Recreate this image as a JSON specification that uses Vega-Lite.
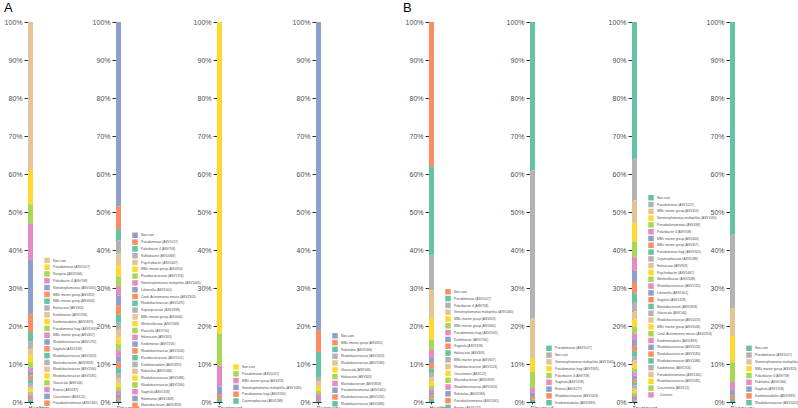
{
"$schema": "https://vega.github.io/schema/vega-lite/v6.json",
"padding": {"left": 4, "top": 2, "right": 0, "bottom": 0},
"background": "white",
"datasets": {
"aH": [
{"group":"Healthy","taxon":"Non-core","value":39,"rank":1},
{"group":"Healthy","taxon":"Pseudomonas (ASV1017)","value":9,"rank":2},
{"group":"Healthy","taxon":"Ruegeria (ASV2066)","value":5,"rank":3},
{"group":"Healthy","taxon":"Polaribacter 4 (ASV708)","value":9.5,"rank":4},
{"group":"Healthy","taxon":"Stenotrophomonas (ASV1065)","value":14.5,"rank":5},
{"group":"Healthy","taxon":"MBIc marine group (ASV453)","value":4.6,"rank":6},
{"group":"Healthy","taxon":"MBIc marine group (ASV444)","value":2.4,"rank":7},
{"group":"Healthy","taxon":"Halieaceae (ASV303)","value":2,"rank":8},
{"group":"Healthy","taxon":"Kordiimonas (ASV1706)","value":1.6,"rank":9},
{"group":"Healthy","taxon":"Kordiimonadales (ASV1839)","value":1.9,"rank":10},
{"group":"Healthy","taxon":"Pseudomonas fragi (ASV1905)","value":1.5,"rank":11},
{"group":"Healthy","taxon":"MBIc marine group (ASV457)","value":1,"rank":12},
{"group":"Healthy","taxon":"Rhodobacteraceae (ASV1232)","value":1,"rank":13},
{"group":"Healthy","taxon":"Sagittula (ASV1318)","value":1,"rank":14},
{"group":"Healthy","taxon":"Rhodobacteraceae (ASV1453)","value":1,"rank":15},
{"group":"Healthy","taxon":"Marinobacterium (ASV1858)","value":1,"rank":16},
{"group":"Healthy","taxon":"Rhodobacteraceae (ASV1580)","value":0.7,"rank":17},
{"group":"Healthy","taxon":"Rhodobacteraceae (ASV1581)","value":0.7,"rank":18},
{"group":"Healthy","taxon":"Glaciecola (ASV146)","value":0.6,"rank":19},
{"group":"Healthy","taxon":"Erwinia (ASV187)","value":0.5,"rank":20},
{"group":"Healthy","taxon":"Crocinitomix (ASV122)","value":0.5,"rank":21},
{"group":"Healthy","taxon":"Pseudoalteromonas (ASV1461)","value":0.5,"rank":22},
{"group":"Healthy","taxon":"Cryomorphaceae (ASV1588)","value":0.5,"rank":23}
],
"aD": [
{"group":"Diseased","taxon":"Non-core","value":48.5,"rank":1},
{"group":"Diseased","taxon":"Pseudomonas (ASV1017)","value":6,"rank":2},
{"group":"Diseased","taxon":"Polaribacter 4 (ASV708)","value":3,"rank":3},
{"group":"Diseased","taxon":"Sulfitobacter (ASV2068)","value":3.5,"rank":4},
{"group":"Diseased","taxon":"Psychrobacter (ASV1667)","value":3,"rank":5},
{"group":"Diseased","taxon":"MBIc marine group (ASV453)","value":3,"rank":6},
{"group":"Diseased","taxon":"Flavobacteriaceae (ASV1316)","value":2.5,"rank":7},
{"group":"Diseased","taxon":"Stenotrophomonas maltophilia (ASV1065)","value":2.5,"rank":8},
{"group":"Diseased","taxon":"Loktanella (ASV1601)","value":2.5,"rank":9},
{"group":"Diseased","taxon":"Cand. Actinomarina minuta (ASV2303)","value":2.5,"rank":10},
{"group":"Diseased","taxon":"Rhodobacteraceae (ASV1475)","value":2,"rank":11},
{"group":"Diseased","taxon":"Saprospiraceae (ASV1838)","value":2,"rank":12},
{"group":"Diseased","taxon":"MBIc marine group (ASV444)","value":2,"rank":13},
{"group":"Diseased","taxon":"Weeksellaceae (ASV2348)","value":1.8,"rank":14},
{"group":"Diseased","taxon":"Flavicella (ASV700)","value":1.7,"rank":15},
{"group":"Diseased","taxon":"Halieaceae (ASV303)","value":1.6,"rank":16},
{"group":"Diseased","taxon":"Kordiimonas (ASV1706)","value":1.5,"rank":17},
{"group":"Diseased","taxon":"Rhodobacteraceae (ASV1526)","value":1.5,"rank":18},
{"group":"Diseased","taxon":"Flavobacteriaceae (ASV1551)","value":1.4,"rank":19},
{"group":"Diseased","taxon":"Kordiimonadales (ASV1839)","value":1.3,"rank":20},
{"group":"Diseased","taxon":"Rubritalea (ASV2066)","value":1.2,"rank":21},
{"group":"Diseased","taxon":"Rhodobacteraceae (ASV1486)","value":1.1,"rank":22},
{"group":"Diseased","taxon":"Rhodobacteraceae (ASV1580)","value":1,"rank":23},
{"group":"Diseased","taxon":"Sagittula (ASV1318)","value":1,"rank":24},
{"group":"Diseased","taxon":"Halomonas (ASV2308)","value":0.9,"rank":25},
{"group":"Diseased","taxon":"Marinobacterium (ASV1858)","value":0.6,"rank":26},
{"group":"Diseased","taxon":"Pseudoalteromonas (ASV1461)","value":0.4,"rank":27}
],
"aT": [
{"group":"Treatment","taxon":"Non-core","value":82,"rank":1},
{"group":"Treatment","taxon":"Pseudomonas (ASV1017)","value":8.4,"rank":2},
{"group":"Treatment","taxon":"MBIc marine group (ASV453)","value":5.5,"rank":3},
{"group":"Treatment","taxon":"Stenotrophomonas maltophilia (ASV1065)","value":2.2,"rank":4},
{"group":"Treatment","taxon":"Pseudomonas fragi (ASV1905)","value":1.1,"rank":5},
{"group":"Treatment","taxon":"Cryomorphaceae (ASV1588)","value":0.8,"rank":6}
],
"aR": [
{"group":"Recovery","taxon":"Non-core","value":81.1,"rank":1},
{"group":"Recovery","taxon":"MBIc marine group (ASV453)","value":5.7,"rank":2},
{"group":"Recovery","taxon":"Rubritalea (ASV2066)","value":6.6,"rank":3},
{"group":"Recovery","taxon":"Rhodobacteraceae (ASV1453)","value":1.1,"rank":4},
{"group":"Recovery","taxon":"Rhodobacteraceae (ASV1580)","value":1.3,"rank":5},
{"group":"Recovery","taxon":"Glaciecola (ASV146)","value":1.3,"rank":6},
{"group":"Recovery","taxon":"Halieaceae (ASV303)","value":0.8,"rank":7},
{"group":"Recovery","taxon":"Marinobacterium (ASV1858)","value":0.8,"rank":8},
{"group":"Recovery","taxon":"Pseudoalteromonas (ASV1461)","value":0.5,"rank":9},
{"group":"Recovery","taxon":"Rhodobacteraceae (ASV1232)","value":0.5,"rank":10},
{"group":"Recovery","taxon":"Rhodobacteraceae (ASV1486)","value":0.3,"rank":11}
],
"bH": [
{"group":"Healthy","taxon":"Non-core","value":38,"rank":1},
{"group":"Healthy","taxon":"Pseudomonas (ASV1017)","value":23.3,"rank":2},
{"group":"Healthy","taxon":"Polaribacter 4 (ASV708)","value":9.2,"rank":3},
{"group":"Healthy","taxon":"Stenotrophomonas maltophilia (ASV1065)","value":7.4,"rank":4},
{"group":"Healthy","taxon":"MBIc marine group (ASV453)","value":5.8,"rank":5},
{"group":"Healthy","taxon":"MBIc marine group (ASV444)","value":2.6,"rank":6},
{"group":"Healthy","taxon":"Pseudomonas fragi (ASV1905)","value":2.1,"rank":7},
{"group":"Healthy","taxon":"Kordiimonas (ASV1706)","value":1.3,"rank":8},
{"group":"Healthy","taxon":"Sagittula (ASV1318)","value":1.6,"rank":9},
{"group":"Healthy","taxon":"Halieaceae (ASV303)","value":1.1,"rank":10},
{"group":"Healthy","taxon":"MBIc marine group (ASV457)","value":1,"rank":11},
{"group":"Healthy","taxon":"Rhodobacteraceae (ASV1526)","value":1.1,"rank":12},
{"group":"Healthy","taxon":"Crocinitomix (ASV122)","value":1.3,"rank":13},
{"group":"Healthy","taxon":"Marinobacterium (ASV1858)","value":0.8,"rank":14},
{"group":"Healthy","taxon":"Rhodobacteraceae (ASV1453)","value":0.8,"rank":15},
{"group":"Healthy","taxon":"Rubritalea (ASV2066)","value":0.8,"rank":16},
{"group":"Healthy","taxon":"Pseudoalteromonas (ASV1461)","value":0.9,"rank":17},
{"group":"Healthy","taxon":"Erwinia (ASV1077)","value":0.9,"rank":18}
],
"bD": [
{"group":"Diseased","taxon":"Pseudomonas (ASV1017)","value":39,"rank":1},
{"group":"Diseased","taxon":"Non-core","value":39,"rank":2},
{"group":"Diseased","taxon":"Stenotrophomonas maltophilia (ASV1065)","value":10.4,"rank":3},
{"group":"Diseased","taxon":"Pseudomonas fragi (ASV1905)","value":3.7,"rank":4},
{"group":"Diseased","taxon":"Polaribacter 4 (ASV708)","value":4.2,"rank":5},
{"group":"Diseased","taxon":"Sagittula (ASV1318)","value":1.3,"rank":6},
{"group":"Diseased","taxon":"Erwinia (ASV1077)","value":1.1,"rank":7},
{"group":"Diseased","taxon":"Rhodobacteraceae (ASV1453)","value":0.7,"rank":8},
{"group":"Diseased","taxon":"Kordiimonadales (ASV1839)","value":0.6,"rank":9}
],
"bT": [
{"group":"Treatment","taxon":"Non-core","value":36,"rank":1},
{"group":"Treatment","taxon":"Pseudomonas (ASV1017)","value":10.9,"rank":2},
{"group":"Treatment","taxon":"MBIc marine group (ASV453)","value":6,"rank":3},
{"group":"Treatment","taxon":"Stenotrophomonas maltophilia (ASV1065)","value":5,"rank":4},
{"group":"Treatment","taxon":"Pseudoalteromonas (ASV438)","value":4,"rank":5},
{"group":"Treatment","taxon":"Polaribacter 4 (ASV708)","value":3.5,"rank":6},
{"group":"Treatment","taxon":"MBIc marine group (ASV444)","value":3,"rank":7},
{"group":"Treatment","taxon":"MBIc marine group (ASV457)","value":3,"rank":8},
{"group":"Treatment","taxon":"Pseudomonas fragi (ASV1905)","value":2.5,"rank":9},
{"group":"Treatment","taxon":"Cryomorphaceae (ASV1588)","value":2.3,"rank":10},
{"group":"Treatment","taxon":"Halieaceae (ASV303)","value":2,"rank":11},
{"group":"Treatment","taxon":"Psychrobacter (ASV1667)","value":2,"rank":12},
{"group":"Treatment","taxon":"Weeksellaceae (ASV2348)","value":1.8,"rank":13},
{"group":"Treatment","taxon":"Rhodobacteraceae (ASV1232)","value":1.7,"rank":14},
{"group":"Treatment","taxon":"Loktanella (ASV1601)","value":1.5,"rank":15},
{"group":"Treatment","taxon":"Sagittula (ASV1318)","value":1.4,"rank":16},
{"group":"Treatment","taxon":"Marinobacterium (ASV1858)","value":1.3,"rank":17},
{"group":"Treatment","taxon":"Glaciecola (ASV146)","value":1.2,"rank":18},
{"group":"Treatment","taxon":"Rhodobacteraceae (ASV1453)","value":1.1,"rank":19},
{"group":"Treatment","taxon":"MBIc marine group (ASV1046)","value":1,"rank":20},
{"group":"Treatment","taxon":"Cand. Actinomarina minuta (ASV2303)","value":1,"rank":21},
{"group":"Treatment","taxon":"Kordiimonadales (ASV1839)","value":0.9,"rank":22},
{"group":"Treatment","taxon":"Rhodobacteraceae (ASV1526)","value":0.9,"rank":23},
{"group":"Treatment","taxon":"Rhodobacteraceae (ASV1580)","value":0.8,"rank":24},
{"group":"Treatment","taxon":"Rhodobacteraceae (ASV1486)","value":0.8,"rank":25},
{"group":"Treatment","taxon":"Kordiimonas (ASV1706)","value":0.7,"rank":26},
{"group":"Treatment","taxon":"Pseudoalteromonas (ASV1461)","value":0.7,"rank":27},
{"group":"Treatment","taxon":"Rhodobacteraceae (ASV1581)","value":0.6,"rank":28},
{"group":"Treatment","taxon":"Crocinitomix (ASV122)","value":0.6,"rank":29},
{"group":"Treatment","taxon":"Ruegeria (ASV1425)","value":0.5,"rank":30},
{"group":"Treatment","taxon":"Roseobacter (ASV2068)","value":0.5,"rank":31},
{"group":"Treatment","taxon":"Erwinia (ASV1077)","value":0.4,"rank":32},
{"group":"Treatment","taxon":"Cand. Actinomarina (ASV2058)","value":0.4,"rank":33}
],
"bR": [
{"group":"Recovery","taxon":"Non-core","value":56,"rank":1},
{"group":"Recovery","taxon":"Pseudomonas (ASV1017)","value":19.3,"rank":2},
{"group":"Recovery","taxon":"Stenotrophomonas maltophilia (ASV1065)","value":7.3,"rank":3},
{"group":"Recovery","taxon":"MBIc marine group (ASV453)","value":6.9,"rank":4},
{"group":"Recovery","taxon":"Polaribacter 4 (ASV708)","value":5.2,"rank":5},
{"group":"Recovery","taxon":"Rubritalea (ASV2066)","value":2.1,"rank":6},
{"group":"Recovery","taxon":"Sagittula (ASV1318)","value":1.4,"rank":7},
{"group":"Recovery","taxon":"Kordiimonadales (ASV1839)","value":1,"rank":8},
{"group":"Recovery","taxon":"Rhodobacteraceae (ASV1453)","value":0.8,"rank":9}
]
},
"hconcat": [
{"width": 88, "height": 380, "data": {"name": "aH"},
 "title": {"text": "A", "anchor": "start", "frame": "group", "dx": -24, "fontSize": 13, "fontWeight": "normal", "offset": 3, "color": "#000"},
 "mark": {"type": "bar"},
 "encoding": {
  "x": {"field": "group", "type": "nominal", "scale": {"range": [0, 5], "paddingInner": 0, "paddingOuter": 0}, "axis": {"title": null, "labelAngle": 0, "labelAlign": "left", "labelOffset": -2, "labelFontSize": 5.5, "tickSize": 2, "labelPadding": 1}},
  "y": {"field": "value", "type": "quantitative", "stack": "normalize", "scale": {"domain": [0, 1]}, "axis": {"title": null, "values": [0,0.1,0.2,0.3,0.4,0.5,0.6,0.7,0.8,0.9,1], "format": ".0%"}},
  "color": {"field": "taxon", "type": "nominal",
   "scale": {"domain": ["Non-core","Pseudomonas (ASV1017)","Ruegeria (ASV2066)","Polaribacter 4 (ASV708)","Stenotrophomonas (ASV1065)","MBIc marine group (ASV453)","MBIc marine group (ASV444)","Halieaceae (ASV303)","Kordiimonas (ASV1706)","Kordiimonadales (ASV1839)","Pseudomonas fragi (ASV1905)","MBIc marine group (ASV457)","Rhodobacteraceae (ASV1232)","Sagittula (ASV1318)","Rhodobacteraceae (ASV1453)","Marinobacterium (ASV1858)","Rhodobacteraceae (ASV1580)","Rhodobacteraceae (ASV1581)","Glaciecola (ASV146)","Erwinia (ASV187)","Crocinitomix (ASV122)","Pseudoalteromonas (ASV1461)","Cryomorphaceae (ASV1588)"],
    "range": ["#e5c494","#ffd92f","#a6d854","#e78ac3","#8da0cb","#fc8d62","#66c2a5","#b3b3b3","#e5c494","#ffd92f","#a6d854","#e78ac3","#8da0cb","#fc8d62","#66c2a5","#b3b3b3","#e5c494","#ffd92f","#a6d854","#e78ac3","#8da0cb","#fc8d62","#66c2a5"]},
   "legend": {"title": null, "orient": "none", "legendX": 16, "legendY": 235.4}},
  "order": {"field": "rank", "sort": "descending"}
 }},
{"width": 101, "height": 380, "data": {"name": "aD"},
 "mark": {"type": "bar"},
 "encoding": {
  "x": {"field": "group", "type": "nominal", "scale": {"range": [0, 5], "paddingInner": 0, "paddingOuter": 0}, "axis": {"title": null, "labelAngle": 0, "labelAlign": "left", "labelOffset": -2, "labelFontSize": 5.5, "tickSize": 2, "labelPadding": 1}},
  "y": {"field": "value", "type": "quantitative", "stack": "normalize", "scale": {"domain": [0, 1]}, "axis": {"title": null, "values": [0,0.1,0.2,0.3,0.4,0.5,0.6,0.7,0.8,0.9,1], "format": ".0%"}},
  "color": {"field": "taxon", "type": "nominal",
   "scale": {"domain": ["Non-core","Pseudomonas (ASV1017)","Polaribacter 4 (ASV708)","Sulfitobacter (ASV2068)","Psychrobacter (ASV1667)","MBIc marine group (ASV453)","Flavobacteriaceae (ASV1316)","Stenotrophomonas maltophilia (ASV1065)","Loktanella (ASV1601)","Cand. Actinomarina minuta (ASV2303)","Rhodobacteraceae (ASV1475)","Saprospiraceae (ASV1838)","MBIc marine group (ASV444)","Weeksellaceae (ASV2348)","Flavicella (ASV700)","Halieaceae (ASV303)","Kordiimonas (ASV1706)","Rhodobacteraceae (ASV1526)","Flavobacteriaceae (ASV1551)","Kordiimonadales (ASV1839)","Rubritalea (ASV2066)","Rhodobacteraceae (ASV1486)","Rhodobacteraceae (ASV1580)","Sagittula (ASV1318)","Halomonas (ASV2308)","Marinobacterium (ASV1858)","Pseudoalteromonas (ASV1461)"],
    "range": ["#8da0cb","#fc8d62","#66c2a5","#b3b3b3","#e5c494","#ffd92f","#a6d854","#e78ac3","#8da0cb","#fc8d62","#66c2a5","#b3b3b3","#e5c494","#ffd92f","#a6d854","#e78ac3","#8da0cb","#fc8d62","#66c2a5","#b3b3b3","#e5c494","#ffd92f","#a6d854","#e78ac3","#8da0cb","#fc8d62","#66c2a5"]},
   "legend": {"title": null, "orient": "none", "legendX": 16, "legendY": 210.3}},
  "order": {"field": "rank", "sort": "descending"}
 }},
{"width": 99, "height": 380, "data": {"name": "aT"},
 "mark": {"type": "bar"},
 "encoding": {
  "x": {"field": "group", "type": "nominal", "scale": {"range": [0, 5], "paddingInner": 0, "paddingOuter": 0}, "axis": {"title": null, "labelAngle": 0, "labelAlign": "left", "labelOffset": -2, "labelFontSize": 5.5, "tickSize": 2, "labelPadding": 1}},
  "y": {"field": "value", "type": "quantitative", "stack": "normalize", "scale": {"domain": [0, 1]}, "axis": {"title": null, "values": [0,0.1,0.2,0.3,0.4,0.5,0.6,0.7,0.8,0.9,1], "format": ".0%"}},
  "color": {"field": "taxon", "type": "nominal",
   "scale": {"domain": ["Non-core","Pseudomonas (ASV1017)","MBIc marine group (ASV453)","Stenotrophomonas maltophilia (ASV1065)","Pseudomonas fragi (ASV1905)","Cryomorphaceae (ASV1588)"],
    "range": ["#ffd92f","#a6d854","#e78ac3","#8da0cb","#fc8d62","#66c2a5"]},
   "legend": {"title": null, "orient": "none", "legendX": 16, "legendY": 342}},
  "order": {"field": "rank", "sort": "descending"}
 }},
{"width": 113, "height": 380, "data": {"name": "aR"},
 "mark": {"type": "bar"},
 "encoding": {
  "x": {"field": "group", "type": "nominal", "scale": {"range": [0, 5], "paddingInner": 0, "paddingOuter": 0}, "axis": {"title": null, "labelAngle": 0, "labelAlign": "left", "labelOffset": -2, "labelFontSize": 5.5, "tickSize": 2, "labelPadding": 1}},
  "y": {"field": "value", "type": "quantitative", "stack": "normalize", "scale": {"domain": [0, 1]}, "axis": {"title": null, "values": [0,0.1,0.2,0.3,0.4,0.5,0.6,0.7,0.8,0.9,1], "format": ".0%"}},
  "color": {"field": "taxon", "type": "nominal",
   "scale": {"domain": ["Non-core","MBIc marine group (ASV453)","Rubritalea (ASV2066)","Rhodobacteraceae (ASV1453)","Rhodobacteraceae (ASV1580)","Glaciecola (ASV146)","Halieaceae (ASV303)","Marinobacterium (ASV1858)","Pseudoalteromonas (ASV1461)","Rhodobacteraceae (ASV1232)","Rhodobacteraceae (ASV1486)"],
    "range": ["#8da0cb","#fc8d62","#66c2a5","#b3b3b3","#e5c494","#ffd92f","#a6d854","#e78ac3","#8da0cb","#fc8d62","#66c2a5"]},
   "legend": {"title": null, "orient": "none", "legendX": 16, "legendY": 310.8}},
  "order": {"field": "rank", "sort": "descending"}
 }},
{"width": 101, "height": 380, "data": {"name": "bH"},
 "title": {"text": "B", "anchor": "start", "frame": "group", "dx": -26, "fontSize": 13, "fontWeight": "normal", "offset": 3, "color": "#000"},
 "mark": {"type": "bar"},
 "encoding": {
  "x": {"field": "group", "type": "nominal", "scale": {"range": [0, 5], "paddingInner": 0, "paddingOuter": 0}, "axis": {"title": null, "labelAngle": 0, "labelAlign": "left", "labelOffset": -2, "labelFontSize": 5.5, "tickSize": 2, "labelPadding": 1}},
  "y": {"field": "value", "type": "quantitative", "stack": "normalize", "scale": {"domain": [0, 1]}, "axis": {"title": null, "values": [0,0.1,0.2,0.3,0.4,0.5,0.6,0.7,0.8,0.9,1], "format": ".0%"}},
  "color": {"field": "taxon", "type": "nominal",
   "scale": {"domain": ["Non-core","Pseudomonas (ASV1017)","Polaribacter 4 (ASV708)","Stenotrophomonas maltophilia (ASV1065)","MBIc marine group (ASV453)","MBIc marine group (ASV444)","Pseudomonas fragi (ASV1905)","Kordiimonas (ASV1706)","Sagittula (ASV1318)","Halieaceae (ASV303)","MBIc marine group (ASV457)","Rhodobacteraceae (ASV1526)","Crocinitomix (ASV122)","Marinobacterium (ASV1858)","Rhodobacteraceae (ASV1453)","Rubritalea (ASV2066)","Pseudoalteromonas (ASV1461)","Erwinia (ASV1077)"],
    "range": ["#fc8d62","#66c2a5","#b3b3b3","#e5c494","#ffd92f","#a6d854","#e78ac3","#8da0cb","#fc8d62","#66c2a5","#b3b3b3","#e5c494","#ffd92f","#a6d854","#e78ac3","#8da0cb","#fc8d62","#66c2a5"]},
   "legend": {"title": null, "orient": "none", "legendX": 16, "legendY": 266.8}},
  "order": {"field": "rank", "sort": "descending"}
 }},
{"width": 102, "height": 380, "data": {"name": "bD"},
 "mark": {"type": "bar"},
 "encoding": {
  "x": {"field": "group", "type": "nominal", "scale": {"range": [0, 5], "paddingInner": 0, "paddingOuter": 0}, "axis": {"title": null, "labelAngle": 0, "labelAlign": "left", "labelOffset": -2, "labelFontSize": 5.5, "tickSize": 2, "labelPadding": 1}},
  "y": {"field": "value", "type": "quantitative", "stack": "normalize", "scale": {"domain": [0, 1]}, "axis": {"title": null, "values": [0,0.1,0.2,0.3,0.4,0.5,0.6,0.7,0.8,0.9,1], "format": ".0%"}},
  "color": {"field": "taxon", "type": "nominal",
   "scale": {"domain": ["Pseudomonas (ASV1017)","Non-core","Stenotrophomonas maltophilia (ASV1065)","Pseudomonas fragi (ASV1905)","Polaribacter 4 (ASV708)","Sagittula (ASV1318)","Erwinia (ASV1077)","Rhodobacteraceae (ASV1453)","Kordiimonadales (ASV1839)"],
    "range": ["#66c2a5","#b3b3b3","#e5c494","#ffd92f","#a6d854","#e78ac3","#8da0cb","#fc8d62","#66c2a5"]},
   "legend": {"title": null, "orient": "none", "legendX": 16, "legendY": 323.3}},
  "order": {"field": "rank", "sort": "descending"}
 }},
{"width": 98, "height": 380, "data": {"name": "bT"},
 "mark": {"type": "bar"},
 "encoding": {
  "x": {"field": "group", "type": "nominal", "scale": {"range": [0, 5], "paddingInner": 0, "paddingOuter": 0}, "axis": {"title": null, "labelAngle": 0, "labelAlign": "left", "labelOffset": -2, "labelFontSize": 5.5, "tickSize": 2, "labelPadding": 1}},
  "y": {"field": "value", "type": "quantitative", "stack": "normalize", "scale": {"domain": [0, 1]}, "axis": {"title": null, "values": [0,0.1,0.2,0.3,0.4,0.5,0.6,0.7,0.8,0.9,1], "format": ".0%"}},
  "color": {"field": "taxon", "type": "nominal",
   "scale": {"domain": ["Non-core","Pseudomonas (ASV1017)","MBIc marine group (ASV453)","Stenotrophomonas maltophilia (ASV1065)","Pseudoalteromonas (ASV438)","Polaribacter 4 (ASV708)","MBIc marine group (ASV444)","MBIc marine group (ASV457)","Pseudomonas fragi (ASV1905)","Cryomorphaceae (ASV1588)","Halieaceae (ASV303)","Psychrobacter (ASV1667)","Weeksellaceae (ASV2348)","Rhodobacteraceae (ASV1232)","Loktanella (ASV1601)","Sagittula (ASV1318)","Marinobacterium (ASV1858)","Glaciecola (ASV146)","Rhodobacteraceae (ASV1453)","MBIc marine group (ASV1046)","Cand. Actinomarina minuta (ASV2303)","Kordiimonadales (ASV1839)","Rhodobacteraceae (ASV1526)","Rhodobacteraceae (ASV1580)","Rhodobacteraceae (ASV1486)","Kordiimonas (ASV1706)","Pseudoalteromonas (ASV1461)","Rhodobacteraceae (ASV1581)","Crocinitomix (ASV122)","Ruegeria (ASV1425)","Roseobacter (ASV2068)","Erwinia (ASV1077)","Cand. Actinomarina (ASV2058)"],
    "range": ["#66c2a5","#b3b3b3","#e5c494","#ffd92f","#a6d854","#e78ac3","#8da0cb","#fc8d62","#66c2a5","#b3b3b3","#e5c494","#ffd92f","#a6d854","#e78ac3","#8da0cb","#fc8d62","#66c2a5","#b3b3b3","#e5c494","#ffd92f","#a6d854","#e78ac3","#8da0cb","#fc8d62","#66c2a5","#b3b3b3","#e5c494","#ffd92f","#a6d854","#e78ac3","#8da0cb","#fc8d62","#66c2a5"]},
   "legend": {"title": null, "orient": "none", "legendX": 16, "legendY": 172.7}},
  "order": {"field": "rank", "sort": "descending"}
 }},
{"width": 60, "height": 380, "data": {"name": "bR"},
 "mark": {"type": "bar"},
 "encoding": {
  "x": {"field": "group", "type": "nominal", "scale": {"range": [0, 5], "paddingInner": 0, "paddingOuter": 0}, "axis": {"title": null, "labelAngle": 0, "labelAlign": "left", "labelOffset": -2, "labelFontSize": 5.5, "tickSize": 2, "labelPadding": 1}},
  "y": {"field": "value", "type": "quantitative", "stack": "normalize", "scale": {"domain": [0, 1]}, "axis": {"title": null, "values": [0,0.1,0.2,0.3,0.4,0.5,0.6,0.7,0.8,0.9,1], "format": ".0%"}},
  "color": {"field": "taxon", "type": "nominal",
   "scale": {"domain": ["Non-core","Pseudomonas (ASV1017)","Stenotrophomonas maltophilia (ASV1065)","MBIc marine group (ASV453)","Polaribacter 4 (ASV708)","Rubritalea (ASV2066)","Sagittula (ASV1318)","Kordiimonadales (ASV1839)","Rhodobacteraceae (ASV1453)"],
    "range": ["#66c2a5","#b3b3b3","#e5c494","#ffd92f","#a6d854","#e78ac3","#8da0cb","#fc8d62","#66c2a5"]},
   "legend": {"title": null, "orient": "none", "legendX": 16, "legendY": 323.3}},
  "order": {"field": "rank", "sort": "descending"}
 }}
],
"spacing": 0,
"bounds": "flush",
"resolve": {"scale": {"color": "independent", "y": "independent", "x": "independent"}, "legend": {"color": "independent"}, "axis": {"y": "independent", "x": "independent"}},
"config": {
 "font": "Liberation Sans",
 "view": {"stroke": null},
 "axis": {"grid": false, "domainColor": "#333333", "tickColor": "#333333", "labelColor": "#4d4d4d", "labelFont": "Liberation Sans"},
 "axisY": {"labelFontSize": 7, "tickSize": 4, "labelPadding": 2},
 "legend": {"symbolType": "square", "symbolSize": 30, "symbolStrokeWidth": 0, "labelFontSize": 3.2, "labelColor": "#4d4d4d", "rowPadding": 0.8, "labelOffset": 3, "padding": 0, "labelLimit": 120, "labelFont": "Liberation Sans"},
 "title": {"font": "Liberation Sans"}
}
}
